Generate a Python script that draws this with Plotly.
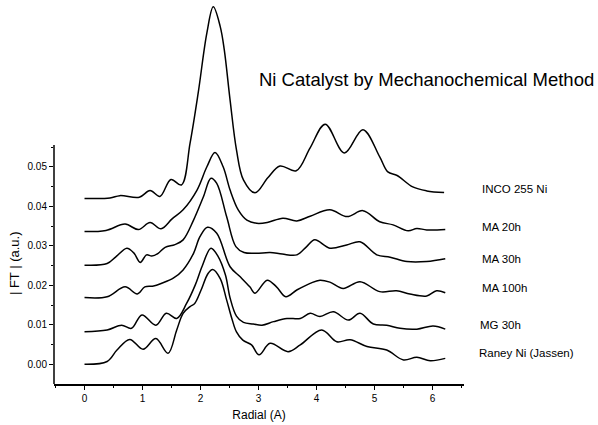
import plotly.graph_objects as go

# Radial distance (A) and |FT| magnitude for each Ni catalyst sample (curves are vertically offset)
inco_r = [0.0, 0.44, 0.61, 0.945, 1.13, 1.30, 1.49, 1.67, 1.82, 1.96, 2.11, 2.22, 2.34, 2.41, 2.51,
          2.62, 2.74, 2.94, 3.16, 3.37, 3.65, 3.89, 4.15, 4.48, 4.80, 5.09, 5.23, 5.39, 5.66, 5.90, 6.20]
inco_ft = [0.0420, 0.0421, 0.0427, 0.0423, 0.0440, 0.0425, 0.0468, 0.0454, 0.0560, 0.0687, 0.0839,
           0.0905, 0.0855, 0.0796, 0.0669, 0.0543, 0.0467, 0.0434, 0.0472, 0.0502, 0.0490, 0.0548,
           0.0608, 0.0535, 0.0594, 0.0525, 0.0487, 0.0478, 0.0449, 0.0439, 0.0435]

ma20_r = [0.0, 0.37, 0.70, 0.93, 1.13, 1.32, 1.51, 1.70, 1.94, 2.11, 2.25, 2.39, 2.51, 2.65, 2.80,
          2.97, 3.15, 3.42, 3.66, 3.89, 4.23, 4.53, 4.80, 5.09, 5.32, 5.58, 5.73, 5.90, 6.22]
ma20_ft = [0.0336, 0.0339, 0.0355, 0.0341, 0.0359, 0.0343, 0.0368, 0.0391, 0.0441, 0.0500, 0.0536,
           0.0500, 0.0441, 0.0391, 0.0365, 0.0357, 0.0359, 0.0370, 0.0363, 0.0375, 0.0391, 0.0374,
           0.0389, 0.0361, 0.0353, 0.0338, 0.0344, 0.0340, 0.0341]

ma30_r = [0.0, 0.39, 0.54, 0.73, 0.85, 0.96, 1.07, 1.16, 1.27, 1.39, 1.56, 1.70, 1.88, 2.05, 2.18,
          2.28, 2.45, 2.61, 2.75, 2.96, 3.20, 3.41, 3.66, 3.83, 3.97, 4.23, 4.52, 4.75, 5.04, 5.27,
          5.56, 5.90, 6.22]
ma30_ft = [0.0251, 0.0255, 0.0272, 0.0294, 0.0282, 0.0258, 0.0277, 0.0274, 0.0281, 0.0296, 0.0303,
           0.0315, 0.0365, 0.0424, 0.0471, 0.0458, 0.0374, 0.0298, 0.0283, 0.0281, 0.0283, 0.0279,
           0.0277, 0.0298, 0.0315, 0.0294, 0.0302, 0.0310, 0.0277, 0.0271, 0.0260, 0.0260, 0.0267]

ma100_r = [0.0, 0.39, 0.70, 0.91, 1.04, 1.19, 1.33, 1.53, 1.70, 1.88, 1.99, 2.12, 2.28, 2.51, 2.68,
           2.85, 2.94, 3.15, 3.31, 3.47, 3.66, 3.89, 4.06, 4.23, 4.46, 4.75, 5.09, 5.38, 5.61, 5.90,
           6.07, 6.22]
ma100_ft = [0.0169, 0.0171, 0.0196, 0.0178, 0.0196, 0.0198, 0.0205, 0.0218, 0.0239, 0.0281, 0.0323,
            0.0347, 0.0332, 0.0247, 0.0222, 0.0196, 0.0180, 0.0213, 0.0196, 0.0171, 0.0188, 0.0205,
            0.0213, 0.0208, 0.0192, 0.0209, 0.0184, 0.0186, 0.0178, 0.0173, 0.0186, 0.0181]

mg30_r = [0.0, 0.39, 0.64, 0.81, 0.99, 1.23, 1.41, 1.59, 1.76, 1.91, 2.03, 2.18, 2.30, 2.43, 2.51,
          2.62, 2.74, 2.91, 3.06, 3.26, 3.49, 3.72, 3.89, 4.06, 4.29, 4.55, 4.75, 4.98, 5.21, 5.44,
          5.73, 6.01, 6.22]
mg30_ft = [0.00825, 0.0087, 0.0099, 0.0091, 0.0125, 0.0099, 0.0129, 0.0116, 0.0154, 0.0201, 0.0249,
           0.0294, 0.0274, 0.0226, 0.0168, 0.0122, 0.0106, 0.0102, 0.0099, 0.0108, 0.0116, 0.0116,
           0.0129, 0.0121, 0.0133, 0.0112, 0.0129, 0.0102, 0.0099, 0.0091, 0.0089, 0.0097, 0.0089]

raney_r = [0.0, 0.39, 0.56, 0.78, 1.01, 1.23, 1.44, 1.59, 1.70, 1.82, 1.90, 2.01, 2.13, 2.21, 2.34,
           2.45, 2.54, 2.62, 2.73, 2.88, 3.01, 3.20, 3.51, 3.72, 4.09, 4.35, 4.58, 4.87, 5.21, 5.50,
           5.73, 5.96, 6.22]
raney_ft = [0.0, 0.0007, 0.0036, 0.0063, 0.0038, 0.0065, 0.0028, 0.0087, 0.0129, 0.0146, 0.0154,
            0.0188, 0.0230, 0.0240, 0.0217, 0.0163, 0.0116, 0.0082, 0.0061, 0.0049, 0.0024, 0.0053,
            0.0032, 0.0049, 0.0087, 0.0057, 0.0062, 0.0045, 0.0036, 0.0011, 0.0018, 0.0009, 0.0015]

sample_names = ["INCO 255 Ni", "MA 20h", "MA 30h", "MA 100h", "MG 30h", "Raney Ni (Jassen)"]
# vertical position of each sample name (data units) and its left edge (paper units)
label_y = [0.0443, 0.0348, 0.0266, 0.0193, 0.0100, 0.0028]
label_x = [1.039, 1.039, 1.040, 1.039, 1.035, 1.031]

x_ticks = [0, 1, 2, 3, 4, 5, 6]
y_ticks = [0.00, 0.01, 0.02, 0.03, 0.04, 0.05]
y_ticktext = ["0.00", "0.01", "0.02", "0.03", "0.04", "0.05"]

series = [(inco_r, inco_ft), (ma20_r, ma20_ft), (ma30_r, ma30_ft),
          (ma100_r, ma100_ft), (mg30_r, mg30_ft), (raney_r, raney_ft)]

FONT = "Liberation Sans, Arial, Helvetica, sans-serif"

fig = go.Figure()
for name, (r, ft) in zip(sample_names, series):
    fig.add_trace(go.Scatter(
        x=r, y=ft, name=name, mode="lines",
        line=dict(color="black", width=1.5, shape="spline", smoothing=1.0),
        showlegend=False, hoverinfo="skip",
    ))

for name, xv, yv in zip(sample_names, label_x, label_y):
    fig.add_annotation(x=xv, y=yv, xref="paper", yref="y", text=name, showarrow=False,
                       xanchor="left", yanchor="middle",
                       font=dict(family=FONT, size=11.5, color="black"))

fig.add_annotation(x=1.322, y=0.0720, xref="paper", yref="y",
                   text="Ni Catalyst by Mechanochemical Method", showarrow=False,
                   xanchor="right", yanchor="middle",
                   font=dict(family=FONT, size=18.5, color="black"))

# y axis line only spans the labelled range
fig.add_shape(type="line", xref="paper", yref="y", x0=0, x1=0, y0=-0.005, y1=0.0555,
              line=dict(color="black", width=1.5))

fig.update_layout(
    width=598, height=425,
    margin=dict(l=54, r=134, t=5, b=41),
    paper_bgcolor="white", plot_bgcolor="white",
    font=dict(family=FONT, color="black"),
    xaxis=dict(
        range=[-0.526, 6.543], showgrid=False, zeroline=False,
        showline=True, linecolor="black", linewidth=1.5,
        tickmode="array", tickvals=x_ticks, ticktext=[str(v) for v in x_ticks],
        ticks="outside", ticklen=4, tickwidth=1, tickcolor="black",
        tickfont=dict(size=10, family=FONT),
        minor=dict(tickmode="array", tickvals=[-0.5, 0.5, 1.5, 2.5, 3.5, 4.5, 5.5, 6.5],
                   ticks="outside", ticklen=2, tickcolor="black"),
        title=dict(text="Radial (A)", font=dict(size=12, family=FONT), standoff=8),
    ),
    yaxis=dict(
        range=[-0.00499, 0.09096], showgrid=False, zeroline=False, showline=False,
        tickmode="array", tickvals=y_ticks, ticktext=y_ticktext,
        ticks="outside", ticklen=4, tickwidth=1, tickcolor="black",
        tickfont=dict(size=10, family=FONT),
        minor=dict(tickmode="array", tickvals=[-0.005, 0.005, 0.015, 0.025, 0.035, 0.045, 0.055],
                   ticks="outside", ticklen=2, tickcolor="black"),
    ),
)

fig.add_annotation(x=-0.0976, y=0.319, xref="paper", yref="paper",
                   text="| FT | (a.u.)", textangle=-90, showarrow=False,
                   xanchor="center", yanchor="middle",
                   font=dict(family=FONT, size=13, color="black"))

fig.write_html("out.html")
